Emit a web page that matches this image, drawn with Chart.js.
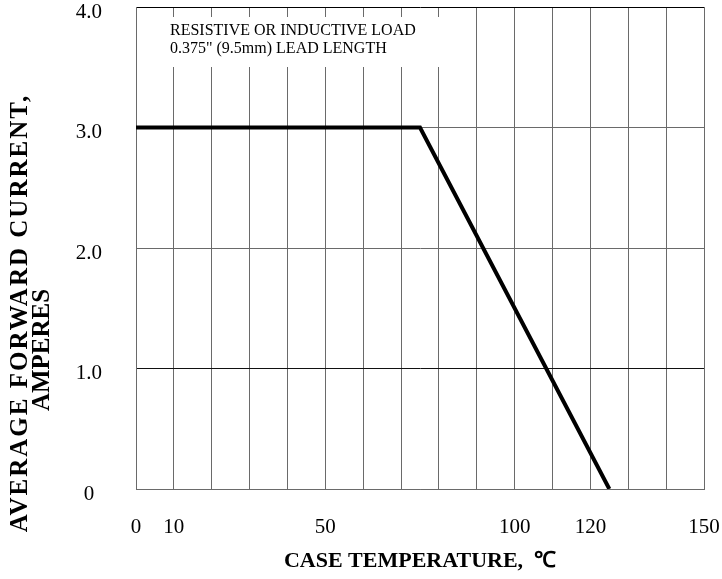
<!DOCTYPE html>
<html>
<head>
<meta charset="utf-8">
<script src="https://cdn.jsdelivr.net/npm/chart.js@4"></script>
<style>
  html, body { margin: 0; padding: 0; background: #fff; }
  #wrap { width: 722px; height: 579px; }
</style>
</head>
<body>
<div id="wrap"><canvas id="grafica"></canvas></div>
<script>
// datos de la curva de reduccion (temperatura de caja vs corriente)
const tempCaja = [0, 75, 125];
const corriente = [3.0, 3.0, 0];
const ticksX = [0, 10, 50, 100, 120, 150];
const ticksY = [0, 1.0, 2.0, 3.0, 4.0];
const notaCarga = ['RESISTIVE OR INDUCTIVE LOAD', '0.375" (9.5mm) LEAD LENGTH'];
const tituloY = ['AVERAGE FORWARD CURRENT,', 'AMPERES'];

const serif = "'Liberation Serif', 'Times New Roman', serif";

// caja blanca con la nota + titulo vertical del eje Y
const pluginTextos = {
  id: 'textos',
  beforeDatasetsDraw(chart) {
    const ctx = chart.ctx;
    ctx.save();
    ctx.fillStyle = '#fff';
    ctx.fillRect(150, 17, 305, 50);
    ctx.fillStyle = '#000';
    ctx.font = '16px ' + serif;
    ctx.textBaseline = 'alphabetic';
    ctx.textAlign = 'left';
    ctx.fillText(notaCarga[0], 170, 35);
    ctx.fillText(notaCarga[1], 170, 53);
    ctx.restore();
  },
  afterDraw(chart) {
    const ctx = chart.ctx;
    const rotado = (texto, x, y, espacio) => {
      ctx.save();
      ctx.fillStyle = '#000';
      ctx.font = 'bold 25px ' + serif;
      ctx.letterSpacing = espacio;
      ctx.textAlign = 'center';
      ctx.textBaseline = 'middle';
      ctx.translate(x, y);
      ctx.rotate(-Math.PI / 2);
      ctx.fillText(texto, 0, 0);
      ctx.restore();
    };
    rotado(tituloY[0], 21, 313, '2px');
    rotado(tituloY[1], 43, 350, '0px');
  }
};

new Chart(document.getElementById('grafica'), {
  type: 'line',
  data: {
    datasets: [{
      data: tempCaja.map((t, i) => ({ x: t, y: corriente[i] })),
      borderColor: '#000',
      borderWidth: 4,
      pointRadius: 0,
      tension: 0,
      fill: false
    }]
  },
  options: {
    responsive: true,
    maintainAspectRatio: false,
    animation: false,
    layout: { padding: { top: 7, right: 18, bottom: 0, left: 0 } },
    plugins: { legend: { display: false }, tooltip: { enabled: false } },
    scales: {
      x: {
        type: 'linear',
        min: 0, max: 150,
        afterFit: (eje) => {
          eje.height = 90;
          eje.paddingLeft = 0; eje.paddingRight = 0;
        },
        afterBuildTicks: (eje) => {
          const t = [];
          for (let v = 0; v <= 150; v += 10) t.push({ value: v });
          eje.ticks = t;
        },
        ticks: {
          autoSkip: false,
          maxRotation: 0,
          padding: 26,
          color: '#000',
          font: { family: serif, size: 21 },
          callback: (v) => ticksX.includes(v) ? String(v) : ''
        },
        grid: { color: '#6a6a6a', lineWidth: 1, drawTicks: false },
        border: { color: '#6a6a6a', width: 1 },
        title: {
          display: true,
          text: 'CASE TEMPERATURE,  \u2103',
          color: '#000',
          font: { family: serif, size: 22, weight: 'bold' },
          padding: { top: 0, bottom: 4 }
        }
      },
      y: {
        type: 'linear',
        min: 0, max: 4,
        afterFit: (eje) => {
          eje.width = 136;
          eje.paddingTop = 0; eje.paddingBottom = 0;
        },
        afterBuildTicks: (eje) => { eje.ticks = ticksY.map(v => ({ value: v })); },
        ticks: {
          padding: 34,
          crossAlign: 'center',
          labelOffset: 5,
          color: '#000',
          font: { family: serif, size: 21 },
          callback: (v) => v === 0 ? '0' : v.toFixed(1)
        },
        grid: {
          color: (c) => c.tick && c.tick.value === 4 ? '#000' : (c.tick && c.tick.value === 1 ? '#111' : '#6a6a6a'),
          lineWidth: 1,
          drawTicks: false
        },
        border: { color: '#6a6a6a', width: 1 }
      }
    }
  },
  plugins: [pluginTextos]
});
</script>
</body>
</html>
